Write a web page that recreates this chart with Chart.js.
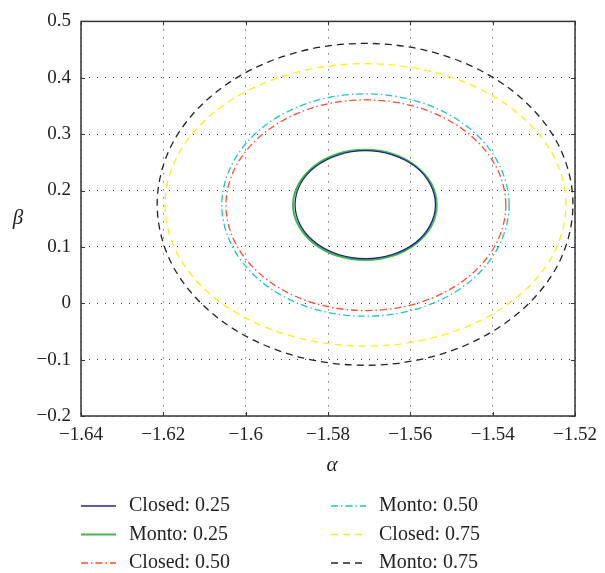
<!DOCTYPE html>
<html>
<head>
<meta charset="utf-8">
<script src="https://cdn.jsdelivr.net/npm/chart.js@4/dist/chart.umd.min.js"></script>
<style>
  html, body { margin: 0; padding: 0; background: #fff; }
  #wrap { width: 605px; height: 573px; position: relative; }
</style>
</head>
<body>
<div id="wrap"><canvas id="myChart" width="605" height="573"></canvas></div>
<script>
// ---- data (alpha, beta points round each closed contour) ----
const seriesNames = ["Closed: 0.25", "Monto: 0.25", "Closed: 0.50", "Monto: 0.50", "Closed: 0.75", "Monto: 0.75"];

const closed25X = [-1.5539, -1.5552, -1.5588, -1.5644, -1.5709, -1.5774, -1.5830, -1.5867, -1.5880, -1.5867, -1.5830, -1.5774, -1.5709, -1.5644, -1.5588, -1.5552];
const closed25Y = [0.1748, 0.2115, 0.2425, 0.2633, 0.2706, 0.2633, 0.2425, 0.2115, 0.1748, 0.1381, 0.1071, 0.0863, 0.0790, 0.0863, 0.1071, 0.1381];

const monto25X = [-1.5536, -1.5549, -1.5587, -1.5643, -1.5710, -1.5777, -1.5833, -1.5871, -1.5885, -1.5871, -1.5833, -1.5777, -1.5710, -1.5643, -1.5587, -1.5549];
const monto25Y = [0.1745, 0.2119, 0.2436, 0.2648, 0.2722, 0.2648, 0.2436, 0.2119, 0.1745, 0.1371, 0.1054, 0.0842, 0.0768, 0.0842, 0.1054, 0.1371];

const closed50X = [-1.5368, -1.5394, -1.5468, -1.5578, -1.5708, -1.5838, -1.5948, -1.6022, -1.6048, -1.6022, -1.5948, -1.5838, -1.5708, -1.5578, -1.5468, -1.5394];
const closed50Y = [0.1739, 0.2454, 0.3061, 0.3466, 0.3608, 0.3466, 0.3061, 0.2454, 0.1739, 0.1024, 0.0417, 0.0012, -0.0130, 0.0012, 0.0417, 0.1024];

const monto50X = [-1.5360, -1.5387, -1.5462, -1.5575, -1.5709, -1.5843, -1.5956, -1.6031, -1.6058, -1.6031, -1.5956, -1.5843, -1.5709, -1.5575, -1.5462, -1.5387];
const monto50Y = [0.1742, 0.2497, 0.3136, 0.3564, 0.3714, 0.3564, 0.3136, 0.2497, 0.1742, 0.0987, 0.0348, -0.0080, -0.0230, -0.0080, 0.0348, 0.0987];

const closed75X = [-1.5222, -1.5259, -1.5365, -1.5523, -1.5709, -1.5895, -1.6053, -1.6159, -1.6196, -1.6159, -1.6053, -1.5895, -1.5709, -1.5523, -1.5365, -1.5259];
const closed75Y = [0.1745, 0.2704, 0.3516, 0.4059, 0.4250, 0.4059, 0.3516, 0.2704, 0.1745, 0.0786, -0.0026, -0.0569, -0.0760, -0.0569, -0.0026, 0.0786];

const monto75X = [-1.5205, -1.5243, -1.5353, -1.5517, -1.5710, -1.5903, -1.6067, -1.6177, -1.6215, -1.6177, -1.6067, -1.5903, -1.5710, -1.5517, -1.5353, -1.5243];
const monto75Y = [0.1755, 0.2848, 0.3774, 0.4393, 0.4610, 0.4393, 0.3774, 0.2848, 0.1755, 0.0662, -0.0264, -0.0883, -0.1100, -0.0883, -0.0264, 0.0662];

const xTicks = [-1.64, -1.62, -1.60, -1.58, -1.56, -1.54, -1.52];
const xTickLabels = ["\u22121.64", "\u22121.62", "\u22121.6", "\u22121.58", "\u22121.56", "\u22121.54", "\u22121.52"];
const yTicks = [-0.2, -0.1, 0, 0.1, 0.2, 0.3, 0.4, 0.5];
const yTickLabels = ["\u22120.2", "\u22120.1", "0", "0.1", "0.2", "0.3", "0.4", "0.5"];

// ---- helpers ----
const FONT = "'Liberation Serif', 'DejaVu Serif', serif";

// closed loop: wrap one point on each side so the spline is smooth at the seam,
// the two wrap segments are then drawn transparent
function loopPts(xs, ys) {
    const n = xs.length;
    const pts = xs.map((x, i) => ({ x: x, y: ys[i] }));
    return [{ x: xs[n - 1], y: ys[n - 1] }].concat(pts, [{ x: xs[0], y: ys[0] }, { x: xs[1], y: ys[1] }]);
}

function line(label, xs, ys, color, width, dash) {
    const data = loopPts(xs, ys);
    const last = data.length - 1;
    return {
        label: label,
        data: data,
        showLine: true,
        borderColor: color,
        backgroundColor: color,
        borderWidth: width,
        borderDash: dash,
        pointRadius: 0,
        tension: 0.34,
        fill: false,
        segment: {
            borderColor: c => (c.p0DataIndex === 0 || c.p1DataIndex === last) ? "rgba(0,0,0,0)" : undefined
        }
    };
}

const DASHED = [7, 5];
const DASHDOT = [7, 3, 1.5, 3];

const datasets = [
    line(seriesNames[0], closed25X, closed25Y, "#23238f", 1.3, []),
    line(seriesNames[1], monto25X, monto25Y, "#3dba47", 2.0, []),
    line(seriesNames[2], closed50X, closed50Y, "#ff4b2b", 1.3, DASHDOT),
    line(seriesNames[3], monto50X, monto50Y, "#1fc3c3", 1.3, DASHDOT),
    line(seriesNames[4], closed75X, closed75Y, "#ffee10", 1.3, DASHED),
    line(seriesNames[5], monto75X, monto75Y, "#222222", 1.3, DASHED)
];

// box, inward ticks, axis titles and the two-column legend
const decorations = {
    id: "decorations",
    afterDraw(chart) {
        const ctx = chart.ctx;
        const a = chart.chartArea;
        const xs = chart.scales.x, ys = chart.scales.y;
        ctx.save();
        ctx.strokeStyle = "#333";
        ctx.lineWidth = 1.5;
        ctx.setLineDash([]);
        ctx.strokeRect(a.left, a.top, a.right - a.left, a.bottom - a.top);

        ctx.lineWidth = 1;
        ctx.beginPath();
        xTicks.forEach(v => {
            const px = Math.round(xs.getPixelForValue(v)) + 0.5;
            ctx.moveTo(px, a.bottom); ctx.lineTo(px, a.bottom - 4);
            ctx.moveTo(px, a.top); ctx.lineTo(px, a.top + 4);
        });
        yTicks.forEach(v => {
            const py = Math.round(ys.getPixelForValue(v)) + 0.5;
            ctx.moveTo(a.left, py); ctx.lineTo(a.left + 4, py);
            ctx.moveTo(a.right, py); ctx.lineTo(a.right - 4, py);
        });
        ctx.stroke();

        ctx.fillStyle = "#222";
        ctx.font = "italic 21px " + FONT;
        ctx.textAlign = "center";
        ctx.textBaseline = "middle";
        ctx.fillText("\u03b1", 332, 465);
        ctx.fillText("\u03b2", 18, 218);

        // legend: column-wise, 3 rows
        const cols = [{ x0: 81, x1: 116, tx: 129 }, { x0: 331, x1: 366, tx: 379 }];
        const rows = [506, 534.5, 563];
        ctx.font = "20px " + FONT;
        ctx.textAlign = "left";
        chart.data.datasets.forEach((ds, i) => {
            const c = cols[Math.floor(i / 3)];
            const y = rows[i % 3];
            ctx.strokeStyle = ds.borderColor;
            ctx.lineWidth = ds.borderWidth;
            ctx.setLineDash(ds.borderDash || []);
            ctx.beginPath();
            ctx.moveTo(c.x0, y); ctx.lineTo(c.x1, y);
            ctx.stroke();
            ctx.setLineDash([]);
            ctx.fillStyle = "#222";
            ctx.fillText(ds.label, c.tx, y);
        });
        ctx.restore();
    }
};

new Chart("myChart", {
    type: "scatter",
    data: { datasets: datasets },
    options: {
        responsive: false,
        animation: false,
        layout: { padding: { left: 0, right: 23, top: 21, bottom: 117 } },
        plugins: { legend: { display: false }, tooltip: { enabled: false } },
        scales: {
            x: {
                type: "linear",
                min: -1.64,
                max: -1.52,
                afterBuildTicks: s => { s.ticks = xTicks.map(v => ({ value: v })); },
                afterFit: s => { s.height = 40; },
                border: { display: false, dash: [1, 7] },
                grid: { color: "#333", lineWidth: 1, drawTicks: false },
                ticks: {
                    padding: 8,
                    color: "#222",
                    font: { family: FONT, size: 19 },
                    maxRotation: 0,
                    callback: (v, i) => xTickLabels[i]
                }
            },
            y: {
                type: "linear",
                min: -0.2,
                max: 0.5,
                afterBuildTicks: s => { s.ticks = yTicks.map(v => ({ value: v })); },
                afterFit: s => { s.width = 81; },
                border: { display: false, dash: [1, 7] },
                grid: { color: "#333", lineWidth: 1, drawTicks: false },
                ticks: {
                    padding: 10,
                    color: "#222",
                    font: { family: FONT, size: 19 },
                    callback: (v, i) => yTickLabels[i]
                }
            }
        }
    },
    plugins: [decorations]
});
</script>
</body>
</html>
